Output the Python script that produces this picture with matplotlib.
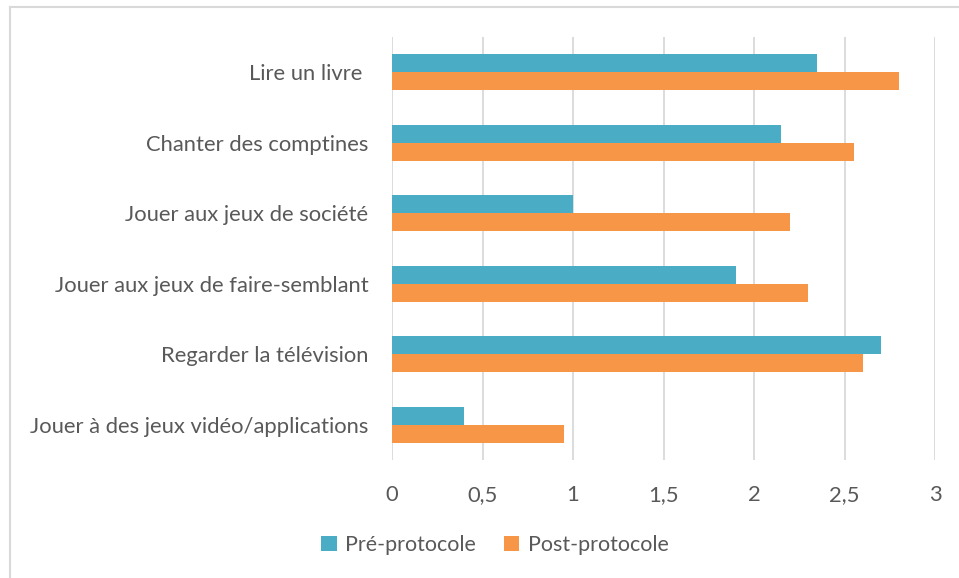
import matplotlib.pyplot as plt
import numpy as np
from matplotlib.lines import Line2D

plt.rcParams['font.family'] = ['Lato', 'DejaVu Sans']

categories = ["Lire un livre ", "Chanter des comptines", "Jouer aux jeux de société",
              "Jouer aux jeux de faire-semblant", "Regarder la télévision",
              "Jouer à des jeux vidéo/applications"]
pre = [2.35, 2.15, 1.0, 1.9, 2.7, 0.4]
post = [2.8, 2.55, 2.2, 2.3, 2.6, 0.95]
xticks = [0, 0.5, 1, 1.5, 2, 2.5, 3]
xticklabels = ["0", "0,5", "1", "1,5", "2", "2,5", "3"]

txt = '#595959'
fig = plt.figure(figsize=(9.59, 5.78), dpi=100)
ax = fig.add_axes([392/959, 1-460/578, (935-392)/959, (460-37)/578])

y = np.arange(len(categories))
h = 0.255
ax.barh(y - h/2, pre, height=h, color='#4BACC6', label='Pré-protocole')
ax.barh(y + h/2, post, height=h, color='#F79646', label='Post-protocole')

ax.set_ylim(len(categories) - 0.5, -0.5)
ax.set_xlim(0, 3)
ax.set_xticks(xticks)
ax.set_xticklabels(xticklabels)
ax.set_yticks(y)
ax.set_yticklabels(categories)
ax.tick_params(axis='both', length=0, labelsize=15.8, colors=txt)
ax.tick_params(axis='x', pad=18)
ax.tick_params(axis='y', pad=17)
ax.grid(axis='x', color='#d9d9d9', linewidth=1.3)
ax.set_axisbelow(True)
for s in ax.spines.values():
    s.set_visible(False)

fig.legend(loc='center', bbox_to_anchor=(495/959, 1-545/578), ncol=2, frameon=False,
           fontsize=15.5, labelcolor=txt, handlelength=0.7, handleheight=0.7,
           columnspacing=1.3, handletextpad=0.4)

fig.add_artist(Line2D([10/959, 10/959], [0, 1-7/578], color='#d9d9d9', lw=1.5, transform=fig.transFigure))
fig.add_artist(Line2D([10/959, 1], [1-7/578, 1-7/578], color='#d9d9d9', lw=1.5, transform=fig.transFigure))

fig.savefig('out.png', dpi=100)
